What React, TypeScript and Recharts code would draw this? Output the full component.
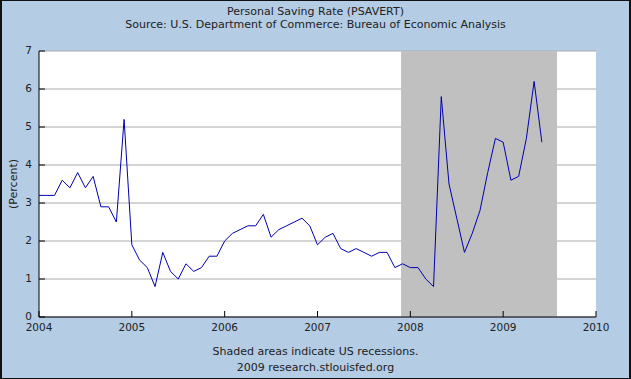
import { CartesianGrid, Line, LineChart, ReferenceArea, XAxis, YAxis } from "recharts";

// monthly personal saving rate, Jan 2004 .. Jun 2009
const years = [2004, 2005, 2006, 2007, 2008, 2009];
const rate2004 = [3.2, 3.2, 3.2, 3.6, 3.4, 3.8, 3.4, 3.7, 2.9, 2.9, 2.5, 5.2];
const rate2005 = [1.9, 1.5, 1.3, 0.8, 1.7, 1.2, 1.0, 1.4, 1.2, 1.3, 1.6, 1.6];
const rate2006 = [2.0, 2.2, 2.3, 2.4, 2.4, 2.7, 2.1, 2.3, 2.4, 2.5, 2.6, 2.4];
const rate2007 = [1.9, 2.1, 2.2, 1.8, 1.7, 1.8, 1.7, 1.6, 1.7, 1.7, 1.3, 1.4];
const rate2008 = [1.3, 1.3, 1.0, 0.8, 5.8, 3.5, 2.6, 1.7, 2.2, 2.8, 3.8, 4.7];
const rate2009 = [4.6, 3.6, 3.7, 4.7, 6.2, 4.6];

const xTicks = [2004, 2005, 2006, 2007, 2008, 2009, 2010];
const yTicks = [0, 1, 2, 3, 4, 5, 6, 7];
const recession = { start: 2007.9, end: 2009.58 };

const data = [rate2004, rate2005, rate2006, rate2007, rate2008, rate2009].flatMap((vals, i) =>
  vals.map((v, m) => ({ t: years[i] + m / 12, rate: v }))
);

const BG = "#b4cce4";
const FONT = "'DejaVu Sans', Verdana, sans-serif";
const TXT = "#222";

function YTick({ x, y, payload }: any) {
  return (
    <g>
      <line x1={x + 7} x2={x + 13} y1={y} y2={y} stroke="#000" />
      <text x={x} y={y} dy="0.3em" textAnchor="end" fontSize={10.5} fill={TXT} fontFamily={FONT}>
        {payload.value}
      </text>
    </g>
  );
}

function XTick({ x, y, payload }: any) {
  return (
    <g>
      <line x1={x} x2={x} y1={y - 6} y2={y - 12} stroke="#000" />
      <text x={x} y={y} dy="0.75em" textAnchor="middle" fontSize={10.5} fill={TXT} fontFamily={FONT}>
        {payload.value}
      </text>
    </g>
  );
}

const centered = (top: number): React.CSSProperties => ({
  position: "absolute",
  top,
  left: 0,
  width: 631,
  textAlign: "center",
  fontFamily: FONT,
  fontSize: 11,
  color: TXT,
  lineHeight: "13px",
});

export default function App() {
  return (
    <div style={{ position: "relative", width: 631, height: 379, background: BG }}>
      <style>{"body{margin:0}"}</style>
      <div style={centered(5)}>Personal Saving Rate (PSAVERT)</div>
      <div style={centered(18)}>Source: U.S. Department of Commerce: Bureau of Economic Analysis</div>
      <LineChart width={631} height={379} data={data} margin={{ top: 51, right: 35, bottom: 42, left: 9 }}>
        <CartesianGrid horizontal vertical={false} stroke="#aaa" fill="#fff" />
        <ReferenceArea x1={recession.start} x2={recession.end} y1={0} y2={7} fill="#c0c0c0" fillOpacity={1} stroke="none" />
        <XAxis
          dataKey="t"
          type="number"
          domain={[2004, 2010]}
          ticks={xTicks}
          interval={0}
          height={20}
          tickSize={0}
          tickMargin={6}
          tick={<XTick />}
          axisLine={{ stroke: "#000" }}
          tickLine={false}
        />
        <YAxis
          type="number"
          domain={[0, 7]}
          ticks={yTicks}
          interval={0}
          width={30}
          tickSize={0}
          tickMargin={7}
          tick={<YTick />}
          axisLine={{ stroke: "#000" }}
          tickLine={false}
        />
        <Line type="linear" dataKey="rate" stroke="#0000b0" strokeWidth={1} dot={false} isAnimationActive={false} />
      </LineChart>
      <div
        style={{
          position: "absolute",
          left: 13,
          top: 184,
          transform: "translate(-50%, -50%) rotate(-90deg)",
          fontFamily: FONT,
          fontSize: 11,
          color: TXT,
          whiteSpace: "nowrap",
        }}
      >
        (Percent)
      </div>
      <div style={centered(345)}>Shaded areas indicate US recessions.</div>
      <div style={centered(361)}>2009 research.stlouisfed.org</div>
      <div
        style={{
          position: "absolute",
          inset: 0,
          border: "1px solid #111",
          borderLeftWidth: 2,
          borderRightWidth: 2,
          pointerEvents: "none",
        }}
      />
    </div>
  );
}
